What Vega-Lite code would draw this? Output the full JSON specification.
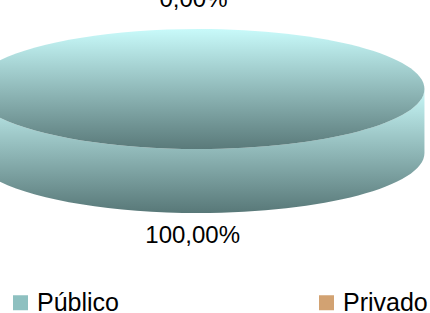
{
  "$schema": "https://vega.github.io/schema/vega-lite/v6.json",
  "width": 430,
  "height": 313,
  "autosize": {"type": "none"},
  "padding": 0,
  "background": "white",
  "config": {"view": {"stroke": null}, "font": "Liberation Sans"},
  "data": {
    "values": [
      {"categoria": "Público", "valor": 100, "etiqueta": "100,00%"},
      {"categoria": "Privado", "valor": 0, "etiqueta": "0,00%"}
    ]
  },
  "layer": [
    {
      "transform": [{"filter": "datum.valor > 0"}],
      "mark": {
        "type": "point",
        "filled": true,
        "opacity": 1,
        "strokeWidth": 0,
        "size": 204304,
        "shape": "M-1,0L-1,0.283A1,0.2655,0,0,0,1,0.283L1,0A1,0.2655,0,0,1,-1,0Z",
        "fill": {
          "gradient": "linear", "x1": 0, "y1": 0, "x2": 0, "y2": 1,
          "stops": [
            {"offset": 0, "color": "#c8f8f8"},
            {"offset": 1, "color": "#587878"}
          ]
        }
      },
      "encoding": {
        "x": {"datum": 0, "type": "quantitative", "scale": {"domain": [-1.1, 1.3]}, "axis": null},
        "y": {"datum": 0.431, "type": "quantitative", "scale": {"domain": [-1, 1]}, "axis": null}
      }
    },
    {
      "transform": [{"filter": "datum.valor > 0"}],
      "mark": {
        "type": "point",
        "filled": true,
        "opacity": 1,
        "strokeWidth": 0,
        "size": 204304,
        "shape": "M-1,0A1,0.2655,0,1,1,1,0A1,0.2655,0,1,1,-1,0Z",
        "fill": {
          "gradient": "linear", "x1": 0, "y1": 0, "x2": 0, "y2": 1,
          "stops": [
            {"offset": 0, "color": "#c8fafa"},
            {"offset": 1, "color": "#5a7a7a"}
          ]
        }
      },
      "encoding": {
        "x": {"datum": 0, "type": "quantitative"},
        "y": {"datum": 0.431, "type": "quantitative"}
      }
    },
    {
      "transform": [{"filter": "datum.categoria == 'Público'"}],
      "mark": {"type": "text", "fontSize": 24, "font": "Liberation Sans", "fill": "#000000", "baseline": "alphabetic", "align": "center"},
      "encoding": {
        "x": {"datum": -0.035, "type": "quantitative"},
        "y": {"datum": -0.55, "type": "quantitative"},
        "text": {"field": "etiqueta"}
      }
    },
    {
      "transform": [{"filter": "datum.categoria == 'Privado'"}],
      "mark": {"type": "text", "fontSize": 24, "font": "Liberation Sans", "fill": "#000000", "baseline": "alphabetic", "align": "center"},
      "encoding": {
        "x": {"datum": -0.03, "type": "quantitative"},
        "y": {"datum": 0.955, "type": "quantitative"},
        "text": {"field": "etiqueta"}
      }
    },
    {
      "mark": {"type": "square", "opacity": 1},
      "encoding": {
        "x": {"datum": 0, "type": "quantitative"},
        "y": {"datum": 0.431, "type": "quantitative"},
        "size": {"value": 0},
        "color": {
          "field": "categoria",
          "type": "nominal",
          "scale": {"domain": ["Público", "Privado"], "range": ["#8ec0c0", "#d2a272"]},
          "legend": {
            "title": null,
            "orient": "none",
            "legendX": 8,
            "legendY": 290,
            "direction": "horizontal",
            "columns": 2,
            "columnPadding": 195,
            "symbolType": "square",
            "symbolSize": 225,
            "symbolStrokeWidth": 0,
            "symbolOpacity": 1,
            "labelFont": "Liberation Sans",
            "labelFontSize": 25,
            "labelColor": "#000000",
            "labelOffset": 4,
            "labelLimit": 200
          }
        }
      }
    }
  ]
}
